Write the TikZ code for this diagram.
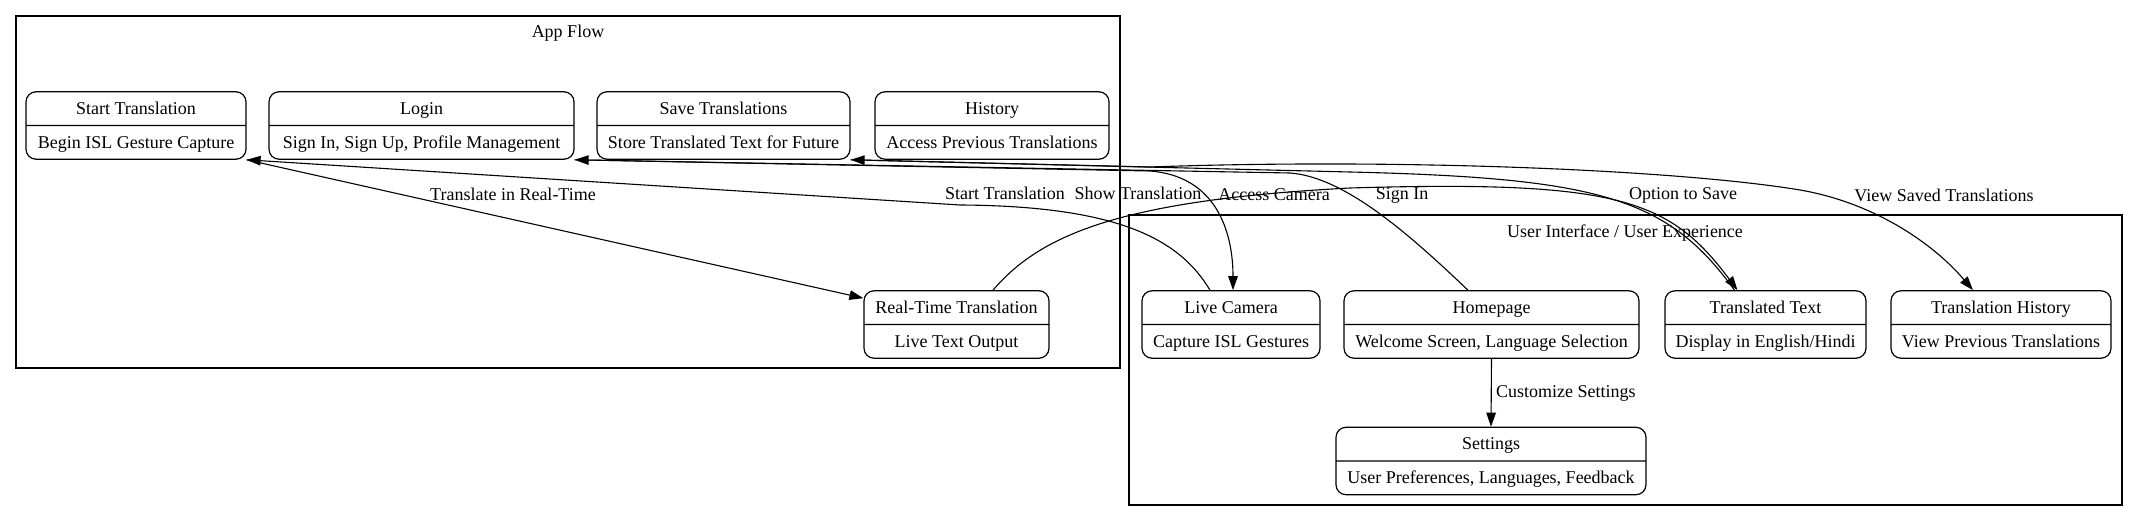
\documentclass[tikz,border=0pt]{standalone}
\usepackage{fontspec}
\setmainfont{Liberation Serif}
\usetikzlibrary{shapes.multipart,arrows.meta}
\newcommand{\rowstrut}{\rule[-10.5pt]{0pt}{32.5pt}}

\begin{document}
\begin{tikzpicture}[x=1pt,y=-1pt,font=\fontsize{18}{21}\selectfont,
  state/.style={rectangle split,rectangle split parts=2,draw,line width=1.2pt,
    rounded corners=10pt,inner xsep=10pt,inner ysep=0pt},
  edge/.style={line width=1.1pt,-{Triangle[length=14pt,width=9.5pt]}},
  clusterbox/.style={draw,line width=1.3pt}]

\useasboundingbox (0,0) rectangle (2139,521);

% clusters
\draw[clusterbox] (16,16) rectangle (1120,368);
\node (appflow) at (568,33) {App Flow};
\draw[clusterbox] (1129,215) rectangle (2122,505);
\node (uiux) at (1625,233) {User Interface / User Experience};

% App Flow
\node[state,minimum width=220pt] (start) at (136,125.5)
  {\rowstrut Start Translation\nodepart{two}\rowstrut Begin ISL Gesture Capture};
\node[state,minimum width=305pt] (login) at (421.5,125.5)
  {\rowstrut Login\nodepart{two}\rowstrut Sign In, Sign Up, Profile Management};
\node[state,minimum width=253pt] (save) at (723.5,125.5)
  {\rowstrut Save Translations\nodepart{two}\rowstrut Store Translated Text for Future};
\node[state,minimum width=234pt] (hist) at (992,125.5)
  {\rowstrut History\nodepart{two}\rowstrut Access Previous Translations};
\node[state,minimum width=185pt] (rt) at (956.5,324.5)
  {\rowstrut Real-Time Translation\nodepart{two}\rowstrut Live Text Output};

% User Interface / User Experience
\node[state,minimum width=178pt] (cam) at (1231,324.5)
  {\rowstrut Live Camera\nodepart{two}\rowstrut Capture ISL Gestures};
\node[state,minimum width=295pt] (home) at (1491.5,324.5)
  {\rowstrut Homepage\nodepart{two}\rowstrut Welcome Screen, Language Selection};
\node[state,minimum width=201pt] (ttext) at (1765.5,324.5)
  {\rowstrut Translated Text\nodepart{two}\rowstrut Display in English/Hindi};
\node[state,minimum width=220pt] (thist) at (2001,324.5)
  {\rowstrut Translation History\nodepart{two}\rowstrut View Previous Translations};
\node[state,minimum width=310pt] (settings) at (1491,461)
  {\rowstrut Settings\nodepart{two}\rowstrut User Preferences, Languages, Feedback};

% edges
\draw[edge] (start.south east) -- ([shift={(0,8)}]rt.north west);
\node (ltrt) at (513,194) {Translate in Real-Time};

\draw[edge] ([shift={(-21,0)}]cam.north) .. controls (1180,240) and (1120,206) .. (960,205)
  -- (start.south east);
\node (lstart) at (1005,193) {Start Translation};

\draw[edge] ([shift={(36.5,0)}]rt.north) .. controls (1040,235) and (1120,200) .. (1350,188)
  .. controls (1620,180) and (1670,200) .. ([shift={(-28,0)}]ttext.north);
\node (lshow) at (1138,193) {Show Translation};

\draw[edge] (login.south east) -- (1150,171) .. controls (1215,176) and (1233,230) .. ([shift={(2,0)}]cam.north);
\node (lcam) at (1274,195) {Access Camera};

\draw[edge] ([shift={(-23.5,0)}]home.north) .. controls (1410,235) and (1345,177) .. (1290,173)
  -- (login.south east);
\node (lsign) at (1402,195) {Sign In};

\draw[edge] ([shift={(-31,0)}]ttext.north) .. controls (1668,198) and (1600,178) .. (1350,172)
  -- (save.south east);
\node (lopt) at (1683,195) {Option to Save};

\draw[edge] (save.south east) -- (1150,167) .. controls (1400,158) and (1680,170) .. (1800,190)
  .. controls (1870,202) and (1930,240) .. ([shift={(-28,0)}]thist.north);
\node (lview) at (1944,195) {View Saved Translations};

\draw[edge] (home.south) -- (settings.north);
\node[anchor=west] (lcust) at (1492.5,393) {Customize Settings};

\end{tikzpicture}
\end{document}
